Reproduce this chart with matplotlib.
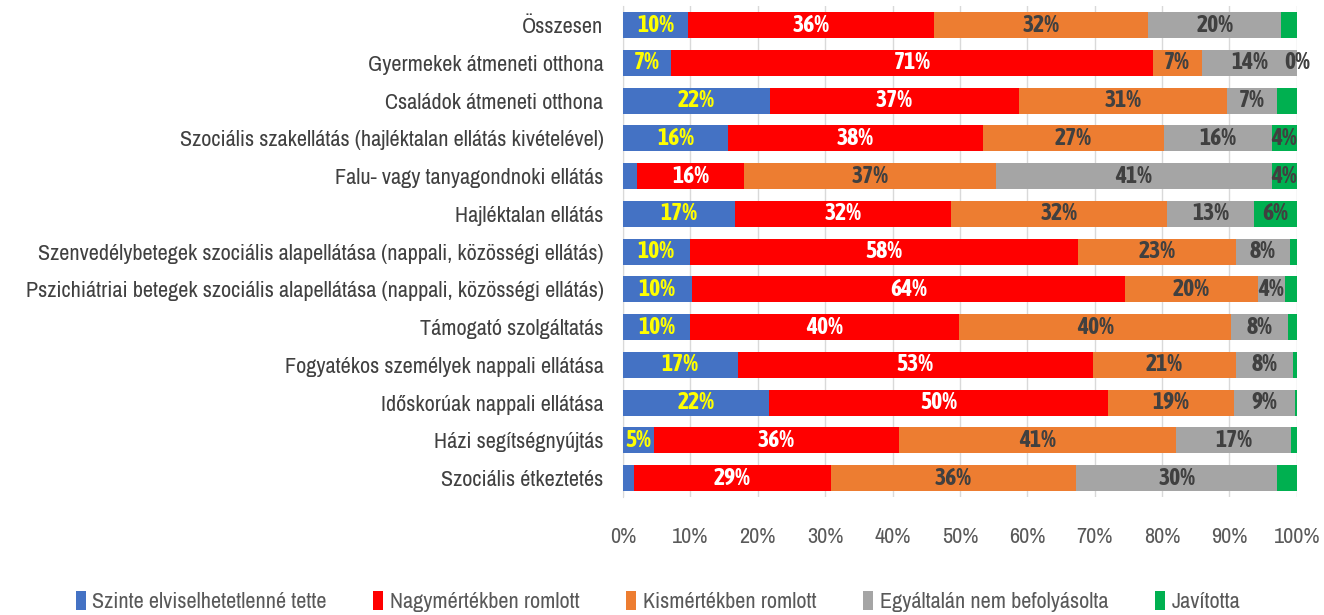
import numpy as np
import matplotlib.pyplot as plt

plt.rcParams['font.family'] = ['Archivo Narrow', 'DejaVu Sans']

categories = [
    "Összesen",
    "Gyermekek átmeneti otthona",
    "Családok átmeneti otthona",
    "Szociális szakellátás (hajléktalan ellátás kivételével)",
    "Falu- vagy tanyagondnoki ellátás",
    "Hajléktalan ellátás",
    "Szenvedélybetegek szociális alapellátása (nappali, közösségi ellátás)",
    "Pszichiátriai betegek szociális alapellátása (nappali, közösségi ellátás)",
    "Támogató szolgáltatás",
    "Fogyatékos személyek nappali ellátása",
    "Időskorúak nappali ellátása",
    "Házi segítségnyújtás",
    "Szociális étkeztetés",
]

series_names = ["Szinte elviselhetetlenné tette", "Nagymértékben romlott",
                "Kismértékben romlott", "Egyáltalán nem befolyásolta", "Javította"]

szinte = [9.7, 7.2, 21.8, 15.6, 2.1, 16.6, 9.9, 10.2, 10.0, 17.0, 21.6, 4.6, 1.6]
nagy = [36.4, 71.4, 37.0, 37.8, 15.9, 32.1, 57.6, 64.3, 39.9, 52.7, 50.4, 36.3, 29.2]
kis = [31.8, 7.3, 30.9, 26.9, 37.4, 32.1, 23.4, 19.7, 40.4, 21.3, 18.6, 41.2, 36.5]
nem = [19.8, 14.1, 7.3, 16.0, 40.9, 12.9, 8.1, 4.0, 8.4, 8.4, 9.1, 17.1, 29.7]
javit = [2.3, 0.0, 3.0, 3.7, 3.7, 6.3, 1.0, 1.8, 1.3, 0.6, 0.3, 0.8, 3.0]

# which labels are shown (Excel hid the small ones)
show = [
    [1, 1, 1, 1, 0],
    [1, 1, 1, 1, 1],
    [1, 1, 1, 1, 0],
    [1, 1, 1, 1, 1],
    [0, 1, 1, 1, 1],
    [1, 1, 1, 1, 1],
    [1, 1, 1, 1, 0],
    [1, 1, 1, 1, 0],
    [1, 1, 1, 1, 0],
    [1, 1, 1, 1, 0],
    [1, 1, 1, 1, 0],
    [1, 1, 1, 1, 0],
    [0, 1, 1, 1, 0],
]

colors = ['#4472C4', '#FF0000', '#ED7D31', '#A5A5A5', '#00B050']
text_colors = ['#FFFF00', '#FFFFFF', '#404040', '#404040', '#404040']

data = np.array([szinte, nagy, kis, nem, javit])
y = np.arange(len(categories))

fig = plt.figure(figsize=(13.24, 6.15), dpi=100)
ax = fig.add_axes([0.4705, 0.192, 0.509, 0.798])

left = np.zeros(len(categories))
for k in range(5):
    ax.barh(y, data[k], left=left, height=0.69, color=colors[k],
            label=series_names[k], zorder=3)
    for i in range(len(categories)):
        if show[i][k]:
            v = data[k][i]
            xc = left[i] + v / 2
            if v == 0:
                xc = 100
            ax.text(xc, y[i], f"{round(v):.0f}%", ha='center', va='center',
                    color=text_colors[k], fontsize=17, fontweight='bold',
                    family=['Asap Condensed', 'DejaVu Sans'], zorder=4)
    left += data[k]

ax.set_xlim(0, 100)
ax.set_ylim(len(categories) - 0.5, -0.5)
ax.set_xticks(np.arange(0, 101, 10))
ax.set_xticklabels([f"{t}%" for t in range(0, 101, 10)])
ax.xaxis.grid(True, color='#D9D9D9', linewidth=1, zorder=0)
ax.set_yticks(y)
ax.set_yticklabels(categories)
ax.tick_params(axis='x', length=0, pad=22, labelsize=16, labelcolor='#595959')
ax.tick_params(axis='y', length=0, pad=14, labelsize=16, labelcolor='#404040')
for s in ['top', 'right', 'bottom']:
    ax.spines[s].set_visible(False)
ax.spines['left'].set_color('#D9D9D9')

fig.legend(loc='lower center', bbox_to_anchor=(0.497, -0.028), ncol=5, frameon=False,
           fontsize=16, handlelength=0.45, handleheight=0.9, handletextpad=0.3,
           columnspacing=2.1, labelcolor='#595959')

fig.savefig('out.png', dpi=100)
